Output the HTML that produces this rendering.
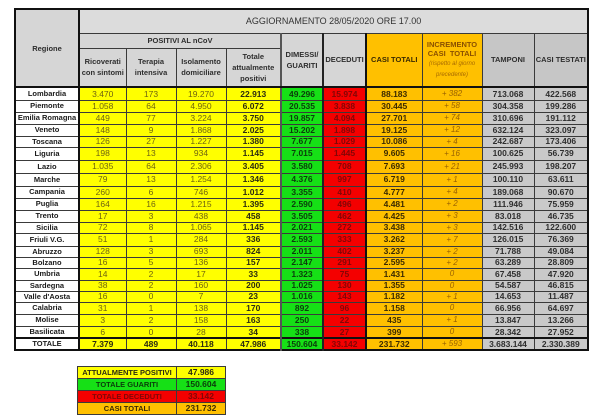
<!DOCTYPE html>
<html><head><meta charset="utf-8">
<style>
html,body{margin:0;padding:0;background:#fff;width:613px;height:420px;overflow:hidden;}
body{position:relative;font-family:"Liberation Sans",Arial,sans-serif;}
table{border-collapse:collapse;table-layout:fixed;position:absolute;}
#main{left:14px;top:8px;width:573px;border:2px solid #111;}
td{padding:0;text-align:center;vertical-align:middle;border:1px solid #3a3a3a;overflow:hidden;white-space:nowrap;line-height:1;font-family:"Liberation Sans",Arial,sans-serif;}
.h{background:#d6d6d6;color:#2e2e2e;font-weight:bold;font-size:7.5px;line-height:11px;}
.ht{background:#dcdcdc;color:#333;font-size:9px;font-weight:normal;}
.ho{background:#ffc000;color:#3a2a00;font-weight:bold;font-size:7.5px;line-height:11px;}
.hi{background:#ffc000;color:#8a5000;font-weight:bold;font-size:7.5px;line-height:9px;}
.hi i{font-weight:normal;font-size:6px;color:#a86a00;}
.hg{background:#c6c6c6;color:#2e2e2e;font-weight:bold;font-size:7.5px;}
.r{background:#fff;color:#1a1a1a;font-weight:bold;font-size:7.5px;border-right:2px solid #111;}
.y{background:#ffff00;color:#6f6410;font-size:8.5px;}
.yb{background:#ffff00;color:#2b2b10;font-size:8.5px;font-weight:bold;}
.g{background:#16e016;color:#0b3d0b;font-size:8.5px;font-weight:bold;border-left:2px solid #555;}
.d{background:#f40000;color:#820606;font-size:8.5px;font-weight:bold;border-left:2px solid #222;border-right:2px solid #111;}
.o{background:#ffc000;color:#3b2a00;font-size:8.5px;font-weight:bold;}
.i{background:#ffc000;color:#9a6200;font-size:8px;font-style:italic;}
.t{background:#c9c9c9;color:#2e2e2e;font-size:8.5px;font-weight:bold;}
tr.tot td{border-top:2px solid #111;}
tr.hb td{border-bottom:2px solid #111;}
#sum{left:77px;top:366px;width:148px;border:1px solid #333;}
#sum td{font-size:7.5px;font-weight:bold;height:11px;}
#sum td.v{font-size:8.5px;}
</style></head><body>
<table id="main">
<colgroup><col style="width:64px"><col style="width:47px"><col style="width:50px"><col style="width:50px"><col style="width:55px"><col style="width:42px"><col style="width:43px"><col style="width:56px"><col style="width:60px"><col style="width:52px"><col style="width:54px"></colgroup>
<tr style="height:24px"><td class="h" rowspan="3" style="border-right:2px solid #111;border-bottom:2px solid #111;">Regione</td><td class="ht" colspan="10">AGGIORNAMENTO 28/05/2020 ORE 17.00</td></tr>
<tr style="height:15px"><td class="h" colspan="4">POSITIVI AL nCoV</td><td class="h" rowspan="2" style="border-left:2px solid #555;border-bottom:2px solid #111;">DIMESSI/<br>GUARITI</td><td class="h" rowspan="2" style="border-left:2px solid #222;border-right:2px solid #111;border-bottom:2px solid #111;">DECEDUTI</td><td class="ho" rowspan="2" style="border-bottom:2px solid #111;">CASI TOTALI</td><td class="hi" rowspan="2" style="border-bottom:2px solid #111;">INCREMENTO<br>CASI&nbsp; TOTALI<br><i>(rispetto al giorno<br>precedente)</i></td><td class="hg" rowspan="2" style="border-bottom:2px solid #111;">TAMPONI</td><td class="hg" rowspan="2" style="border-bottom:2px solid #111;">CASI TESTATI</td></tr>
<tr style="height:39px" class="hb"><td class="h">Ricoverati<br>con sintomi</td><td class="h">Terapia<br>intensiva</td><td class="h">Isolamento<br>domiciliare</td><td class="h">Totale<br>attualmente<br>positivi</td></tr>
<tr style="height:13px"><td class="r">Lombardia</td><td class="y">3.470</td><td class="y">173</td><td class="y">19.270</td><td class="yb">22.913</td><td class="g">49.296</td><td class="d">15.974</td><td class="o">88.183</td><td class="i">+ 382</td><td class="t">713.068</td><td class="t">422.568</td></tr>
<tr style="height:12px"><td class="r">Piemonte</td><td class="y">1.058</td><td class="y">64</td><td class="y">4.950</td><td class="yb">6.072</td><td class="g">20.535</td><td class="d">3.838</td><td class="o">30.445</td><td class="i">+ 58</td><td class="t">304.358</td><td class="t">199.286</td></tr>
<tr style="height:12px"><td class="r">Emilia Romagna</td><td class="y">449</td><td class="y">77</td><td class="y">3.224</td><td class="yb">3.750</td><td class="g">19.857</td><td class="d">4.094</td><td class="o">27.701</td><td class="i">+ 74</td><td class="t">310.696</td><td class="t">191.112</td></tr>
<tr style="height:12px"><td class="r">Veneto</td><td class="y">148</td><td class="y">9</td><td class="y">1.868</td><td class="yb">2.025</td><td class="g">15.202</td><td class="d">1.898</td><td class="o">19.125</td><td class="i">+ 12</td><td class="t">632.124</td><td class="t">323.097</td></tr>
<tr style="height:11px"><td class="r">Toscana</td><td class="y">126</td><td class="y">27</td><td class="y">1.227</td><td class="yb">1.380</td><td class="g">7.677</td><td class="d">1.029</td><td class="o">10.086</td><td class="i">+ 4</td><td class="t">242.687</td><td class="t">173.406</td></tr>
<tr style="height:13px"><td class="r">Liguria</td><td class="y">198</td><td class="y">13</td><td class="y">934</td><td class="yb">1.145</td><td class="g">7.015</td><td class="d">1.445</td><td class="o">9.605</td><td class="i">+ 16</td><td class="t">100.625</td><td class="t">56.739</td></tr>
<tr style="height:13px"><td class="r">Lazio</td><td class="y">1.035</td><td class="y">64</td><td class="y">2.306</td><td class="yb">3.405</td><td class="g">3.580</td><td class="d">708</td><td class="o">7.693</td><td class="i">+ 21</td><td class="t">245.993</td><td class="t">198.207</td></tr>
<tr style="height:13px"><td class="r">Marche</td><td class="y">79</td><td class="y">13</td><td class="y">1.254</td><td class="yb">1.346</td><td class="g">4.376</td><td class="d">997</td><td class="o">6.719</td><td class="i">+ 1</td><td class="t">100.110</td><td class="t">63.611</td></tr>
<tr style="height:12px"><td class="r">Campania</td><td class="y">260</td><td class="y">6</td><td class="y">746</td><td class="yb">1.012</td><td class="g">3.355</td><td class="d">410</td><td class="o">4.777</td><td class="i">+ 4</td><td class="t">189.068</td><td class="t">90.670</td></tr>
<tr style="height:12px"><td class="r">Puglia</td><td class="y">164</td><td class="y">16</td><td class="y">1.215</td><td class="yb">1.395</td><td class="g">2.590</td><td class="d">496</td><td class="o">4.481</td><td class="i">+ 2</td><td class="t">111.946</td><td class="t">75.959</td></tr>
<tr style="height:12px"><td class="r">Trento</td><td class="y">17</td><td class="y">3</td><td class="y">438</td><td class="yb">458</td><td class="g">3.505</td><td class="d">462</td><td class="o">4.425</td><td class="i">+ 3</td><td class="t">83.018</td><td class="t">46.735</td></tr>
<tr style="height:11px"><td class="r">Sicilia</td><td class="y">72</td><td class="y">8</td><td class="y">1.065</td><td class="yb">1.145</td><td class="g">2.021</td><td class="d">272</td><td class="o">3.438</td><td class="i">+ 3</td><td class="t">142.516</td><td class="t">122.600</td></tr>
<tr style="height:13px"><td class="r">Friuli V.G.</td><td class="y">51</td><td class="y">1</td><td class="y">284</td><td class="yb">336</td><td class="g">2.593</td><td class="d">333</td><td class="o">3.262</td><td class="i">+ 7</td><td class="t">126.015</td><td class="t">76.369</td></tr>
<tr style="height:11px"><td class="r">Abruzzo</td><td class="y">128</td><td class="y">3</td><td class="y">693</td><td class="yb">824</td><td class="g">2.011</td><td class="d">402</td><td class="o">3.237</td><td class="i">+ 2</td><td class="t">71.788</td><td class="t">49.084</td></tr>
<tr style="height:11px"><td class="r">Bolzano</td><td class="y">16</td><td class="y">5</td><td class="y">136</td><td class="yb">157</td><td class="g">2.147</td><td class="d">291</td><td class="o">2.595</td><td class="i">+ 2</td><td class="t">63.289</td><td class="t">28.809</td></tr>
<tr style="height:12px"><td class="r">Umbria</td><td class="y">14</td><td class="y">2</td><td class="y">17</td><td class="yb">33</td><td class="g">1.323</td><td class="d">75</td><td class="o">1.431</td><td class="i">0</td><td class="t">67.458</td><td class="t">47.920</td></tr>
<tr style="height:11px"><td class="r">Sardegna</td><td class="y">38</td><td class="y">2</td><td class="y">160</td><td class="yb">200</td><td class="g">1.025</td><td class="d">130</td><td class="o">1.355</td><td class="i">0</td><td class="t">54.587</td><td class="t">46.815</td></tr>
<tr style="height:11px"><td class="r">Valle d'Aosta</td><td class="y">16</td><td class="y">0</td><td class="y">7</td><td class="yb">23</td><td class="g">1.016</td><td class="d">143</td><td class="o">1.182</td><td class="i">+ 1</td><td class="t">14.653</td><td class="t">11.487</td></tr>
<tr style="height:12px"><td class="r">Calabria</td><td class="y">31</td><td class="y">1</td><td class="y">138</td><td class="yb">170</td><td class="g">892</td><td class="d">96</td><td class="o">1.158</td><td class="i">0</td><td class="t">66.956</td><td class="t">64.697</td></tr>
<tr style="height:12px"><td class="r">Molise</td><td class="y">3</td><td class="y">2</td><td class="y">158</td><td class="yb">163</td><td class="g">250</td><td class="d">22</td><td class="o">435</td><td class="i">+ 1</td><td class="t">13.847</td><td class="t">13.266</td></tr>
<tr style="height:12px"><td class="r">Basilicata</td><td class="y">6</td><td class="y">0</td><td class="y">28</td><td class="yb">34</td><td class="g">338</td><td class="d">27</td><td class="o">399</td><td class="i">0</td><td class="t">28.342</td><td class="t">27.952</td></tr>
<tr style="height:12px" class="tot"><td class="r">TOTALE</td><td class="yb">7.379</td><td class="yb">489</td><td class="yb">40.118</td><td class="yb">47.986</td><td class="g">150.604</td><td class="d">33.142</td><td class="o">231.732</td><td class="i">+ 593</td><td class="t">3.683.144</td><td class="t">2.330.389</td></tr>
</table>

<table id="sum">
<colgroup><col style="width:99px"><col style="width:49px"></colgroup>
<tr><td style="background:#ffff00;color:#2b2b10;">ATTUALMENTE POSITIVI</td><td class="v" style="background:#ffff00;color:#2b2b10;">47.986</td></tr>
<tr><td style="background:#16e016;color:#0b3d0b;">TOTALE GUARITI</td><td class="v" style="background:#16e016;color:#0b3d0b;">150.604</td></tr>
<tr><td style="background:#f40000;color:#820606;">TOTALE DECEDUTI</td><td class="v" style="background:#f40000;color:#820606;">33.142</td></tr>
<tr><td style="background:#ffc000;color:#3b2a00;">CASI TOTALI</td><td class="v" style="background:#ffc000;color:#3b2a00;">231.732</td></tr>
</table>
</body></html>
